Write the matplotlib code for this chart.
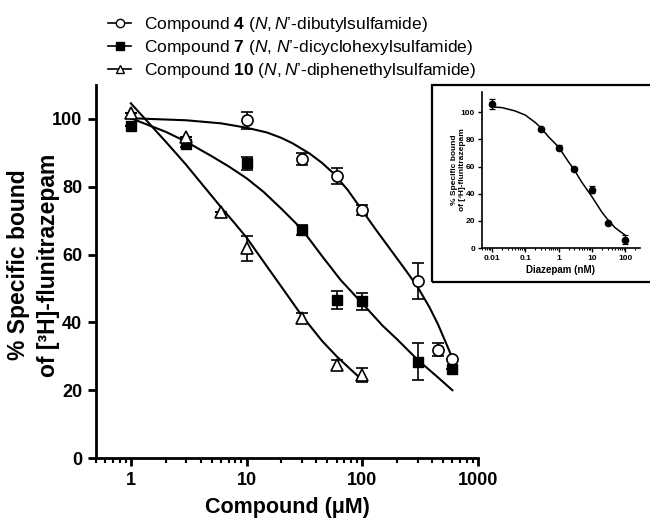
import matplotlib
matplotlib.use("Agg")
import matplotlib.pyplot as plt
from matplotlib.lines import Line2D
from matplotlib.patches import Rectangle
from matplotlib.ticker import LogLocator, NullFormatter, FixedLocator

plt.rcParams['font.family'] = ['Liberation Sans', 'DejaVu Sans']
plt.rcParams['mathtext.fontset'] = 'custom'
plt.rcParams['mathtext.rm'] = 'Liberation Sans'
plt.rcParams['mathtext.it'] = 'Liberation Sans:italic'
plt.rcParams['mathtext.bf'] = 'Liberation Sans:bold'

# Measured points (uM, % specific bound, SEM)
c4_x = [10, 30, 60, 100, 300, 450, 600]
c4_y = [99.6, 88.2, 83.2, 73.2, 52.2, 32.0, 29.3]
c4_err = [2.5, 1.7, 2.3, 1.5, 5.2, 2.0, 0.0]

c7_x = [1, 3, 10, 30, 60, 100, 300, 600]
c7_y = [97.9, 92.7, 86.9, 67.3, 46.6, 46.2, 28.4, 26.2]
c7_err = [0.0, 1.0, 2.0, 1.5, 2.6, 2.6, 5.4, 0.0]

c10_x = [1, 3, 6, 10, 30, 60, 100]
c10_y = [101.7, 94.8, 72.5, 61.9, 41.2, 27.4, 24.5]
c10_err = [0.0, 0.0, 0.0, 3.7, 1.5, 1.5, 2.1]

# fitted curves
c4_fit_x = [1, 3, 6, 10, 15, 20, 25, 35, 45, 57, 75, 100, 130, 175, 230, 300, 380, 450, 520, 600]
c4_fit_y = [100.2, 99.6, 98.7, 97.4, 96.0, 94.4, 92.8, 89.8, 87.0, 83.8, 79.0, 73.0,
            67.5, 61.5, 56.0, 50.5, 44.5, 39.5, 34.5, 29.5]
c7_fit_x = [1, 2, 3, 5, 7, 10, 14, 20, 30, 45, 65, 100, 150, 200, 300, 450, 600]
c7_fit_y = [100.2, 96.2, 93.3, 89.0, 86.0, 82.5, 78.5, 73.5, 67.5, 59.5, 52.5, 45.6,
            39.0, 35.0, 29.0, 23.8, 20.0]
c10_fit_x = [1, 1.5, 2, 3, 4, 6, 8, 10, 15, 20, 30, 45, 60, 80, 100]
c10_fit_y = [104.6, 98.0, 93.3, 86.5, 81.3, 74.0, 69.0, 65.0, 56.5, 50.5, 42.0, 34.5,
             30.0, 26.0, 23.0]

# inset: diazepam (nM)
dz_x = [0.01, 0.3, 1, 3, 10, 30, 100]
dz_y = [106, 87.5, 74, 58, 43, 18.5, 6.2]
dz_err = [3.5, 1.0, 2.0, 1.5, 2.5, 1.0, 3.5]
dz_fit_x = [0.01, 0.02, 0.05, 0.1, 0.2, 0.3, 0.5, 1, 2, 3, 5, 10, 20, 30, 50, 100]
dz_fit_y = [104, 103.5, 101, 98, 92.5, 88.5, 82, 74.5, 63.5, 57.5, 48.5, 38, 26.5, 21, 15, 9.5]

legend_labels = [
    r"Compound $\mathbf{4}$ ($\mathit{N,N’}$-dibutylsulfamide)",
    r"Compound $\mathbf{7}$ ($\mathit{N}$, $\mathit{N’}$-dicyclohexylsulfamide)",
    r"Compound $\mathbf{10}$ ($\mathit{N,N’}$-diphenethylsulfamide)",
]

fig = plt.figure(figsize=(6.5, 5.18), dpi=100)
ax = fig.add_axes([0.1477, 0.1158, 0.5877, 0.7201])

ax.plot(c4_fit_x, c4_fit_y, color='black', lw=1.5, zorder=2)
ax.plot(c7_fit_x, c7_fit_y, color='black', lw=1.5, zorder=2)
ax.plot(c10_fit_x, c10_fit_y, color='black', lw=1.5, zorder=2)

eb = dict(ecolor='black', elinewidth=1.2, capsize=4.5, capthick=1.2, linestyle='none', zorder=3)
ax.errorbar(c4_x, c4_y, yerr=c4_err, marker='o', ms=8, mfc='white', mec='black', mew=1.2, **eb)
ax.errorbar(c7_x, c7_y, yerr=c7_err, marker='s', ms=7.5, mfc='black', mec='black', **eb)
ax.errorbar(c10_x, c10_y, yerr=c10_err, marker='^', ms=8, mfc='white', mec='black', mew=1.2, **eb)

ax.set_xscale('log')
ax.set_xlim(0.5, 1000)
ax.set_ylim(0, 110)
ax.xaxis.set_major_locator(FixedLocator([1, 10, 100, 1000]))
ax.set_xticklabels(['1', '10', '100', '1000'])
ax.xaxis.set_minor_locator(LogLocator(base=10, subs=range(2, 10)))
ax.xaxis.set_minor_formatter(NullFormatter())
ax.set_yticks([0, 20, 40, 60, 80, 100])
for s in ['top', 'right']:
    ax.spines[s].set_visible(False)
for s in ['left', 'bottom']:
    ax.spines[s].set_linewidth(2)
ax.tick_params(which='major', length=6, width=2, direction='out', labelsize=13, pad=4)
ax.tick_params(which='minor', length=3.5, width=1.5, direction='out')
for lab in ax.get_xticklabels() + ax.get_yticklabels():
    lab.set_fontweight('bold')

ax.set_xlabel('Compound (μM)', fontsize=15.5, fontweight='bold', labelpad=6)
fig.text(19 / 650, 1 - 265 / 518, '% Specific bound', rotation=90,
         ha='center', va='center', fontsize=16.5, fontweight='bold')
fig.text(49 / 650, 1 - 265 / 518, 'of [³H]-flunitrazepam', rotation=90,
         ha='center', va='center', fontsize=16.5, fontweight='bold')

handles = [
    Line2D([], [], color='black', lw=1.2, marker='o', ms=6, mfc='white', mec='black'),
    Line2D([], [], color='black', lw=1.2, marker='s', ms=6, mfc='black', mec='black'),
    Line2D([], [], color='black', lw=1.2, marker='^', ms=6, mfc='white', mec='black'),
]
fig.legend(handles, legend_labels, loc='upper left', bbox_to_anchor=(0.148, 0.995),
           frameon=False, fontsize=12.5, handlelength=1.3, handletextpad=0.75,
           labelspacing=0.25, borderpad=0.2)

# inset with frame
fig.patches.append(Rectangle((0.6646, 0.4556), 0.34, 0.3803, transform=fig.transFigure,
                             fill=False, edgecolor='black', lw=1.6, zorder=5))
ins = fig.add_axes([0.7415, 0.5212, 0.243, 0.3012])
ins.plot(dz_fit_x, dz_fit_y, color='black', lw=1.1)
ins.errorbar(dz_x, dz_y, yerr=dz_err, marker='o', ms=4.5, mfc='black', mec='black',
             ecolor='black', elinewidth=0.9, capsize=2.5, capthick=0.9, linestyle='none')
ins.set_xscale('log')
ins.set_xlim(0.005, 280)
ins.set_ylim(0, 115)
ins.xaxis.set_major_locator(FixedLocator([0.01, 0.1, 1, 10, 100]))
ins.set_xticklabels(['0.01', '0.1', '1', '10', '100'])
ins.xaxis.set_minor_locator(LogLocator(base=10, subs=range(2, 10)))
ins.xaxis.set_minor_formatter(NullFormatter())
ins.set_yticks([0, 20, 40, 60, 80, 100])
for s in ['top', 'right']:
    ins.spines[s].set_visible(False)
for s in ['left', 'bottom']:
    ins.spines[s].set_linewidth(1.2)
ins.tick_params(which='major', length=3, width=1, labelsize=6, pad=2)
ins.tick_params(which='minor', length=1.5, width=0.8)
for lab in ins.get_xticklabels() + ins.get_yticklabels():
    lab.set_fontweight('bold')
ins.set_xlabel('Diazepam (nM)', fontsize=7, fontweight='bold', labelpad=2)
ins.set_ylabel('% Specific bound\nof [³H]-flunitrazepam', fontsize=6,
               fontweight='bold', linespacing=1.15)
ins.yaxis.set_label_coords(-0.1, 0.5)

fig.savefig('out.png', dpi=100)
